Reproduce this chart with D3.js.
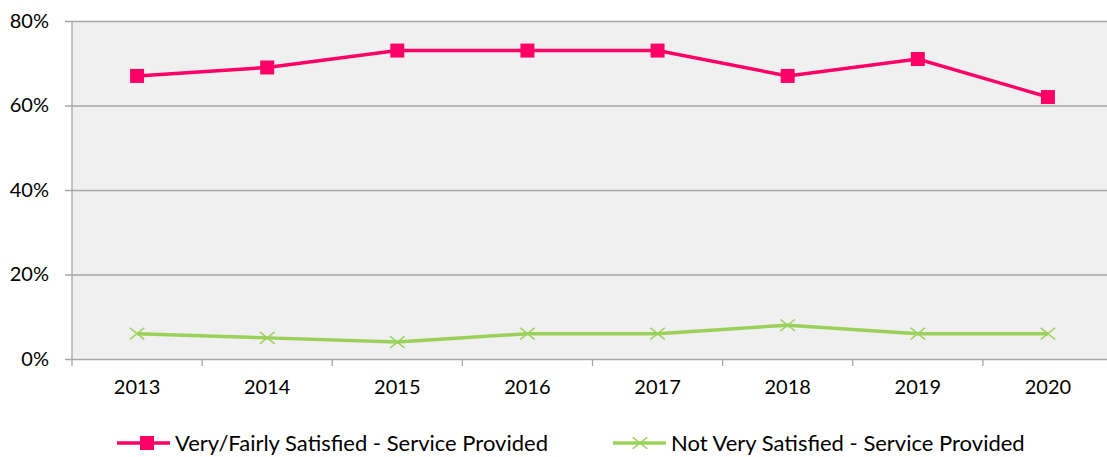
<!DOCTYPE html>
<html>
<head>
<meta charset="utf-8">
<script src="https://cdn.jsdelivr.net/npm/d3@7"></script>
<style>
  body { margin: 0; background: #fff; }
  svg text { font-family: Lato, "Open Sans", sans-serif; fill: #000; }
</style>
</head>
<body>
<svg id="chart" width="1107" height="457"></svg>
<script>
var width = 1107;
var height = 457;

var years = ["2013", "2014", "2015", "2016", "2017", "2018", "2019", "2020"];
var satisfied = [67, 69, 73, 73, 73, 67, 71, 62];
var notSatisfied = [6, 5, 4, 6, 6, 8, 6, 6];
var yTicks = [0, 20, 40, 60, 80];

var margin = {left: 72, top: 21, right: -6, bottom: 98};

var svg = d3.select("#chart");

var x = d3.scaleBand()
    .domain(years)
    .range([margin.left, width - margin.right]);

var y = d3.scaleLinear()
    .domain([0, 80])
    .range([height - margin.bottom, margin.top]);

// plot background
svg.append("rect")
    .attr("x", x.range()[0])
    .attr("y", y(80))
    .attr("width", x.range()[1] - x.range()[0])
    .attr("height", y(0) - y(80))
    .attr("fill", "#f0f0f0");

// gridlines + y axis
var yAxis = svg.append("g")
    .attr("transform", "translate(" + margin.left + ",0)")
    .call(d3.axisLeft(y)
        .tickValues(yTicks)
        .tickSize(-(x.range()[1] - x.range()[0]))
        .tickPadding(23)
        .tickFormat(function(d){ return d + "%"; }));
yAxis.select(".domain").remove();
yAxis.selectAll("line")
    .attr("x2", x.range()[1] - margin.left)
    .attr("x1", -7)
    .attr("stroke", "#a6a6a6")
    .attr("stroke-width", 1.3);
yAxis.selectAll("text").style("font-size", "20px");

// left axis line
svg.append("line")
    .attr("x1", margin.left).attr("x2", margin.left)
    .attr("y1", y(80)).attr("y2", y(0) + 7)
    .attr("stroke", "#a6a6a6")
    .attr("stroke-width", 1.3);

// x axis
var xAxis = svg.append("g")
    .attr("transform", "translate(0," + y(0) + ")")
    .call(d3.axisBottom(x).tickSize(0).tickPadding(21));
xAxis.select(".domain").remove();
xAxis.selectAll("text").style("font-size", "20px");

// tick marks at category boundaries
svg.append("g")
    .selectAll("line")
    .data(years.slice(1))
    .enter()
    .append("line")
    .attr("x1", function(d){ return x(d); })
    .attr("x2", function(d){ return x(d); })
    .attr("y1", y(0))
    .attr("y2", y(0) + 7)
    .attr("stroke", "#a6a6a6")
    .attr("stroke-width", 1.3);

function cx(i) { return x(years[i]) + x.bandwidth() / 2; }

var line = d3.line()
    .x(function(d, i){ return cx(i); })
    .y(function(d){ return y(d); });

var pink = "#ff0066";
var green = "#9bd15a";

// green series
svg.append("path")
    .datum(notSatisfied)
    .attr("d", line)
    .attr("fill", "none")
    .attr("stroke", green)
    .attr("stroke-width", 3.5);

var cross = d3.symbol().type(d3.symbolX).size(90);
svg.append("g")
    .selectAll("path")
    .data(notSatisfied)
    .enter()
    .append("path")
    .attr("d", cross)
    .attr("transform", function(d, i){ return "translate(" + cx(i) + "," + y(d) + ") scale(1.25,1)"; })
    .attr("fill", "none")
    .attr("stroke", green)
    .attr("stroke-width", 1.3);

// pink series
svg.append("path")
    .datum(satisfied)
    .attr("d", line)
    .attr("fill", "none")
    .attr("stroke", pink)
    .attr("stroke-width", 3.5);

svg.append("g")
    .selectAll("rect")
    .data(satisfied)
    .enter()
    .append("rect")
    .attr("x", function(d, i){ return cx(i) - 7; })
    .attr("y", function(d){ return y(d) - 7; })
    .attr("width", 14)
    .attr("height", 14)
    .attr("fill", pink);

// legend
var legend = svg.append("g");
var ly = 443;

legend.append("line")
    .attr("x1", 117).attr("x2", 170)
    .attr("y1", ly).attr("y2", ly)
    .attr("stroke", pink).attr("stroke-width", 3.5);
legend.append("rect")
    .attr("x", 140).attr("y", ly - 7)
    .attr("width", 14).attr("height", 14)
    .attr("fill", pink);
legend.append("text")
    .attr("x", 175).attr("y", ly)
    .attr("dy", "0.35em")
    .style("font-size", "22px")
    .text("Very/Fairly Satisfied - Service Provided");

legend.append("line")
    .attr("x1", 613).attr("x2", 666)
    .attr("y1", ly).attr("y2", ly)
    .attr("stroke", green).attr("stroke-width", 3.5);
legend.append("path")
    .attr("d", cross)
    .attr("transform", "translate(640," + ly + ") scale(1.25,1)")
    .attr("fill", "none")
    .attr("stroke", green)
    .attr("stroke-width", 1.3);
legend.append("text")
    .attr("x", 671).attr("y", ly)
    .attr("dy", "0.35em")
    .style("font-size", "22px")
    .text("Not Very Satisfied - Service Provided");
</script>
</body>
</html>
